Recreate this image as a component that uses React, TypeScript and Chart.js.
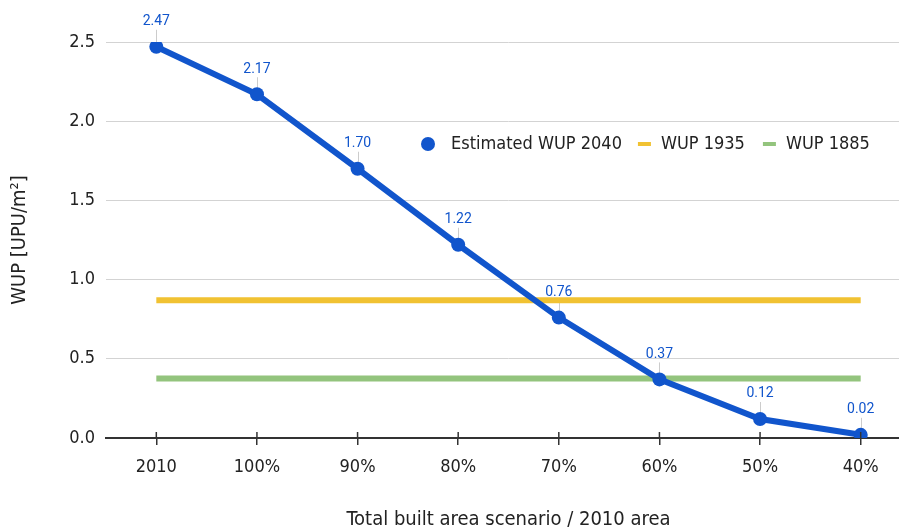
import React, { useEffect, useRef } from "react";
import { Chart, registerables } from "chart.js";

Chart.register(...registerables);

const categories = ["2010", "100%", "90%", "80%", "70%", "60%", "50%", "40%"];
const wup2040 = [2.47, 2.17, 1.7, 1.22, 0.76, 0.37, 0.12, 0.02];
const wup1935 = [0.87, 0.87, 0.87, 0.87, 0.87, 0.87, 0.87, 0.87];
const wup1885 = [0.375, 0.375, 0.375, 0.375, 0.375, 0.375, 0.375, 0.375];
const seriesNames = ["Estimated WUP 2040", "WUP 1935", "WUP 1885"];
const yTicks = [0, 0.5, 1.0, 1.5, 2.0, 2.5];

const BLUE = "#1155cc";
const YELLOW = "#f1c232";
const GREEN = "#93c47d";
const FONT = "'DejaVu Sans Condensed', 'DejaVu Sans', sans-serif";
const TEXT = "#222222";

const labelPlugin = {
  id: "pointLabels",
  beforeDatasetsDraw(chart: any) {
    const meta = chart.getDatasetMeta(0);
    const ctx = chart.ctx;
    ctx.save();
    ctx.strokeStyle = "#cccccc";
    ctx.lineWidth = 1;
    meta.data.forEach((p: any) => {
      ctx.beginPath();
      ctx.moveTo(Math.round(p.x) + 0.5, p.y - 17);
      ctx.lineTo(Math.round(p.x) + 0.5, p.y);
      ctx.stroke();
    });
    ctx.restore();
  },
  afterDatasetsDraw(chart: any) {
    const meta = chart.getDatasetMeta(0);
    const ctx = chart.ctx;
    ctx.save();
    ctx.fillStyle = BLUE;
    ctx.font = "14px Roboto";
    ctx.textAlign = "center";
    ctx.textBaseline = "middle";
    meta.data.forEach((p: any, i: number) => {
      ctx.fillText(wup2040[i].toFixed(2), p.x, p.y - 25);
    });
    ctx.restore();
  },
};

const axisTickPlugin = {
  id: "axisTicksUp",
  afterDraw(chart: any) {
    const x = chart.scales.x;
    const ctx = chart.ctx;
    const base = chart.chartArea.bottom;
    ctx.save();
    ctx.strokeStyle = "#333333";
    ctx.lineWidth = 1.5;
    categories.forEach((_, i) => {
      const px = x.getPixelForValue(i);
      ctx.beginPath();
      ctx.moveTo(px, base - 6);
      ctx.lineTo(px, base);
      ctx.stroke();
    });
    ctx.restore();
  },
};

const legendPlugin = {
  id: "innerLegend",
  afterDraw(chart: any) {
    const ctx = chart.ctx;
    ctx.save();
    ctx.font = "18px " + FONT;
    ctx.textBaseline = "middle";
    ctx.textAlign = "left";
    const cy = 144;
    let x = 421;
    ctx.fillStyle = BLUE;
    ctx.beginPath();
    ctx.arc(x + 7, cy, 7, 0, Math.PI * 2);
    ctx.fill();
    x += 30;
    ctx.fillStyle = TEXT;
    ctx.fillText(seriesNames[0], x, cy);
    x += ctx.measureText(seriesNames[0]).width + 16;
    ctx.fillStyle = YELLOW;
    ctx.fillRect(x, cy - 2, 13, 4);
    x += 23;
    ctx.fillStyle = TEXT;
    ctx.fillText(seriesNames[1], x, cy);
    x += ctx.measureText(seriesNames[1]).width + 18;
    ctx.fillStyle = GREEN;
    ctx.fillRect(x, cy - 2, 13, 4);
    x += 23;
    ctx.fillStyle = TEXT;
    ctx.fillText(seriesNames[2], x, cy);
    ctx.restore();
  },
};

export default function App() {
  const ref = useRef<HTMLCanvasElement | null>(null);
  useEffect(() => {
    if (!ref.current) return;
    const chart = new Chart(ref.current, {
      type: "line",
      data: {
        labels: categories,
        datasets: [
          {
            label: seriesNames[0],
            data: wup2040,
            borderColor: BLUE,
            backgroundColor: BLUE,
            borderWidth: 6,
            pointRadius: 7,
            pointBorderWidth: 0,
            pointBackgroundColor: BLUE,
            tension: 0,
          },
          {
            label: seriesNames[1],
            data: wup1935,
            borderColor: YELLOW,
            borderWidth: 6,
            pointRadius: 0,
            borderCapStyle: "butt",
          },
          {
            label: seriesNames[2],
            data: wup1885,
            borderColor: GREEN,
            borderWidth: 6,
            pointRadius: 0,
            borderCapStyle: "butt",
          },
        ],
      },
      options: {
        animation: false,
        responsive: true,
        maintainAspectRatio: false,
        layout: { padding: { top: 42, right: 0, bottom: 0, left: 0 } },
        plugins: {
          legend: { display: false },
          tooltip: { enabled: false },
        },
        scales: {
          x: {
            offset: true,
            afterFit: (s: any) => {
              s.height = 93;
            },
            grid: {
              display: true,
              drawOnChartArea: false,
              drawTicks: true,
              tickLength: 7,
              offset: false,
              color: "#333333",
              lineWidth: 1.5,
            },
            border: { display: true, color: "#333333", width: 2 },
            ticks: {
              color: TEXT,
              font: { family: FONT, size: 18 },
              padding: 12,
              maxRotation: 0,
            },
            title: {
              display: true,
              text: "Total built area scenario / 2010 area",
              color: TEXT,
              font: { family: FONT, size: 20 },
              padding: { top: 0, bottom: -1 },
            },
          },
          y: {
            min: 0,
            max: 2.5,
            afterFit: (s: any) => {
              s.width = 106;
            },
            afterBuildTicks: (s: any) => {
              s.ticks = yTicks.map((v) => ({ value: v }));
            },
            grid: {
              drawTicks: false,
              color: (c: any) => (c.tick && c.tick.value === 0 ? "rgba(0,0,0,0)" : "#d3d3d3"),
              lineWidth: 1,
            },
            border: { display: false },
            ticks: {
              color: TEXT,
              font: { family: FONT, size: 18 },
              padding: 11,
              callback: (v: any) => Number(v).toFixed(1),
            },
            title: {
              display: true,
              text: "WUP [UPU/m²]",
              color: TEXT,
              font: { family: FONT, size: 20 },
              padding: { top: 8, bottom: 0 },
            },
          },
        },
      },
      plugins: [labelPlugin, axisTickPlugin, legendPlugin],
    });
    return () => chart.destroy();
  }, []);

  return (
    <div
      style={{
        position: "fixed",
        left: 0,
        top: 0,
        width: 899,
        height: 531,
        overflow: "hidden",
        background: "#ffffff",
      }}
    >
      <div style={{ position: "relative", width: 918, height: 531 }}>
        <canvas ref={ref} />
      </div>
    </div>
  );
}
